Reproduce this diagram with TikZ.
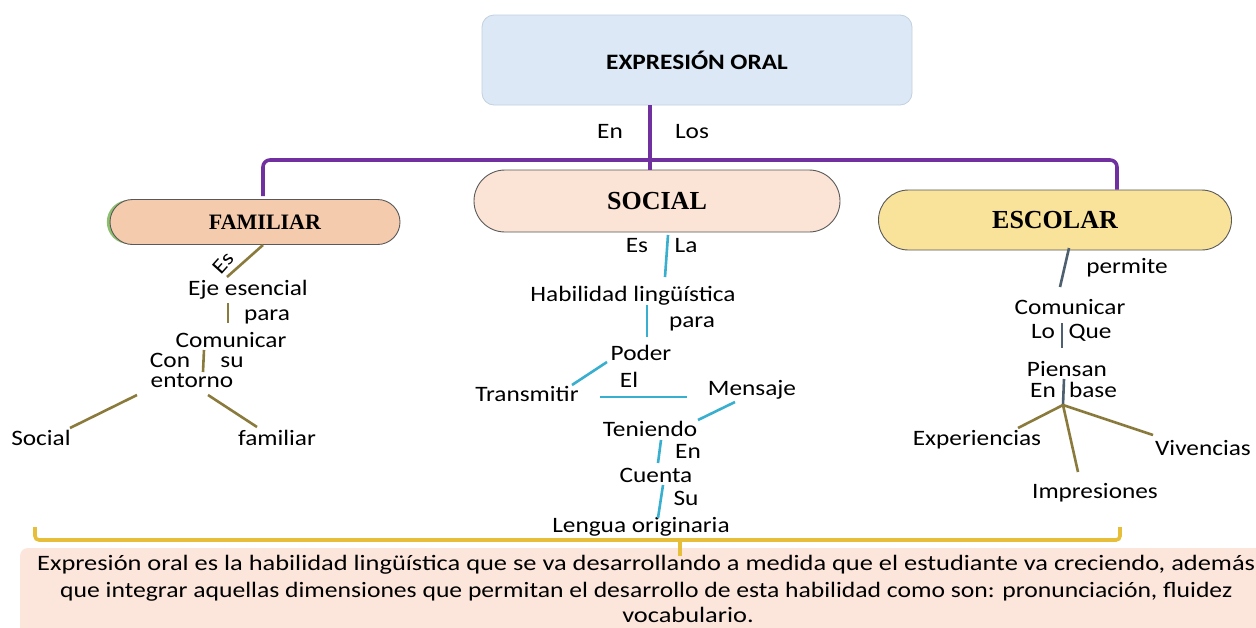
\documentclass[tikz,border=0pt]{standalone}
\usepackage{fontspec}
\setmainfont{Carlito}
\newfontfamily\serifb{Liberation Serif}
\usepackage{graphicx}
\usetikzlibrary{shapes.misc}
\definecolor{cPurple}{HTML}{7030A0}
\definecolor{cTopFill}{HTML}{DCE8F5}
\definecolor{cTopDraw}{HTML}{C2D0E0}
\definecolor{cFam}{HTML}{F5CBAE}
\definecolor{cSoc}{HTML}{FBE3D5}
\definecolor{cEsc}{HTML}{F9E29A}
\definecolor{cOlive}{HTML}{8A7B3C}
\definecolor{cBlue}{HTML}{38AFCF}
\definecolor{cSlate}{HTML}{4E6070}
\definecolor{cGold}{HTML}{E6BE3A}
\definecolor{cDef}{HTML}{FCE6DB}
\definecolor{cGreen}{HTML}{8DBF6E}
\newcommand\T[1]{\scalebox{1.15}[1]{#1}}
\newcommand\TB[1]{\scalebox{1.2}[1]{#1}}
\newcommand\TC[1]{\scalebox{1.165}[1]{#1}}
\begin{document}
\begin{tikzpicture}[x=1pt,y=-1pt,
  lbl/.style={inner sep=0pt, text height=14pt, text depth=4pt, font=\fontsize{22}{26}\selectfont},
  pill/.style={rounded rectangle, draw=black!65, line width=0.9pt, inner sep=0pt,
     font=\serifb\bfseries\fontsize{26}{30}\selectfont},
  oline/.style={draw=cOlive, line width=2.6pt},
  bline/.style={draw=cBlue, line width=2.6pt},
  sline/.style={draw=cSlate, line width=2.6pt},
  pline/.style={draw=cPurple, line width=3.6pt, rounded corners=7pt},
  gline/.style={draw=cGold, line width=3.6pt, rounded corners=4pt}
]
\useasboundingbox (0,0) rectangle (1256,627);
\fill[white] (0,0) rectangle (1256,627);
\begin{scope}
\clip (0,0) rectangle (1256,627);

% top box
\node[draw=cTopDraw, fill=cTopFill, rounded corners=12pt, line width=0.8pt,
  minimum width=430pt, minimum height=90pt, inner sep=0pt,
  font=\bfseries\fontsize{22}{26}\selectfont] (top) at (697,60) {\T{EXPRESIÓN ORAL}};

% pills
\node[rounded rectangle, draw=cGreen, line width=3pt, minimum width=290pt, minimum height=41pt] (famsh) at (250,222) {};
\node[pill, fill=cFam, minimum width=290pt, minimum height=45pt, font=\serifb\bfseries\fontsize{22}{26}\selectfont] (fam) at (255,222) {\hspace*{20pt}FAMILIAR};
\node[pill, fill=cSoc, minimum width=366pt, minimum height=62pt] (soc) at (657,201) {SOCIAL};
\node[pill, fill=cEsc, minimum width=353pt, minimum height=60pt] (esc) at (1055,220) {ESCOLAR};

% purple connectors
\coordinate (brk) at (650,160);
\draw[pline] ([xshift=-47pt]top.south) -- ([xshift=-7pt]soc.north);
\draw[pline] ([shift={(8,-3)}]fam.north) |- (brk) -| ([shift={(62,0)}]esc.north);
\node[lbl] (en0) at (610,133) {\T{En}};
\node[lbl] (los0) at (692,133) {\T{Los}};

% FAMILIAR branch
\node[inner sep=0pt, font=\fontsize{21}{25}\selectfont, rotate=48] (es1) at (223,263) {\T{Es}};
\node[lbl] (eje) at (248,290) {\T{Eje esencial}};
\node[lbl] (para1) at (267,315) {\T{para}};
\node[lbl] (com1) at (231,342) {\T{Comunicar}};
\node[lbl] (con) at (170,362) {\T{Con}};
\node[lbl] (su1) at (232,362) {\T{su}};
\node[lbl] (ent) at (192,382) {\T{entorno}};
\node[lbl] (soc1) at (41,440) {\T{Social}};
\node[lbl] (fam1) at (277,440) {\T{familiar}};
\draw[oline] ([shift={(8,23)}]fam.center) -- ([shift={(-21,-13)}]eje.center);
\draw[oline] ([shift={(-20,13)}]eje.center) -- ([shift={(-3,-19)}]com1.center);
\draw[oline] ([shift={(-27,8)}]com1.center) -- ([shift={(11,-10)}]ent.center);
\draw[oline] ([shift={(-55,13)}]ent.center) -- ([shift={(29,-12)}]soc1.center);
\draw[oline] ([shift={(16,13)}]ent.center) -- ([shift={(-20,-13)}]fam1.center);

% SOCIAL branch
\node[lbl] (es2) at (637,247) {\T{Es}};
\node[lbl] (la2) at (686,247) {\T{La}};
\node[lbl] (hab) at (633,296) {\T{Habilidad lingüística}};
\node[lbl] (para2) at (692,322) {\T{para}};
\node[lbl] (pod) at (641,355) {\T{Poder}};
\node[lbl] (tra) at (527,396) {\T{Transmitir}};
\node[lbl] (el) at (629,382) {\T{El}};
\node[lbl] (men) at (752,390) {\T{Mensaje}};
\node[lbl] (ten) at (650,431) {\T{Teniendo}};
\node[lbl] (en2) at (688,453) {\T{En}};
\node[lbl] (cue) at (656,477) {\T{Cuenta}};
\node[lbl] (su2) at (686,500) {\T{Su}};
\node[lbl] (len) at (641,527) {\T{Lengua originaria}};
\draw[bline] ([shift={(11,34)}]soc.center) -- ([shift={(32,-19)}]hab.center);
\draw[bline] ([shift={(14,9)}]hab.center) -- ([shift={(6,-18)}]pod.center);
\draw[bline] ([shift={(-34,7)}]pod.center) -- ([shift={(45,-11)}]tra.center);
\draw[bline] ([shift={(73,1)}]tra.center) -- ([shift={(-65,7)}]men.center);
\draw[bline] ([shift={(-17,12)}]men.center) -- ([shift={(48,-11)}]ten.center);
\draw[bline] ([shift={(11,9)}]ten.center) -- ([shift={(2,-14)}]cue.center);
\draw[bline] ([shift={(7,8)}]cue.center) -- ([shift={(17,-9)}]len.center);

% ESCOLAR branch
\node[lbl] (per) at (1127,268) {\T{permite}};
\node[lbl] (com2) at (1070,309) {\T{Comunicar}};
\node[lbl] (lo) at (1043,333) {\T{Lo}};
\node[lbl] (que) at (1090,333) {\T{Que}};
\node[lbl] (pie) at (1067,371) {\T{Piensan}};
\node[lbl] (en3) at (1043,392) {\T{En}};
\node[lbl] (base) at (1093,392) {\T{base}};
\node[lbl] (exp) at (977,440) {\T{Experiencias}};
\node[lbl] (imp) at (1095,493) {\T{Impresiones}};
\node[lbl] (viv) at (1203,450) {\T{Vivencias}};
\coordinate (fan) at (1063,405);
\draw[sline] ([shift={(14,28)}]esc.center) -- ([shift={(-10,-22)}]com2.center);
\draw[sline] ([shift={(-8,14)}]com2.center) -- ([shift={(-5,-23)}]pie.center);
\draw[sline] ([shift={(-3,8)}]pie.center) -- (fan);
\draw[oline] (fan) -- ([shift={(41,-12)}]exp.center);
\draw[oline] (fan) -- ([shift={(-17,-21)}]imp.center);
\draw[oline] (fan) -- ([shift={(-50,-15)}]viv.center);

% bottom definition
\node[fill=cDef, rounded corners=8pt, minimum width=1260pt, minimum height=100pt, inner sep=0pt] (def) at (650,598) {};
\coordinate (bl) at (35,527);
\coordinate (br) at (1120,527);
\coordinate (bm) at (680,540);
\draw[gline] (bl) |- (bm) -| (br);
\draw[draw=cGold, line width=3.6pt] (bm) -- (bm |- def.north) -- ++(0,8);
\node[lbl, anchor=west] (d1) at (37,565) {\TB{Expresión oral es la habilidad lingüística que se va desarrollando a medida que el estudiante va creciendo, además}};
\node[lbl, anchor=west] (d2) at (60,592) {\TC{que integrar aquellas dimensiones que permitan el desarrollo de esta habilidad como son: pronunciación, fluidez}};
\node[lbl] (d3) at (688,617) {\TB{vocabulario.}};
\end{scope}
\end{tikzpicture}
\end{document}
